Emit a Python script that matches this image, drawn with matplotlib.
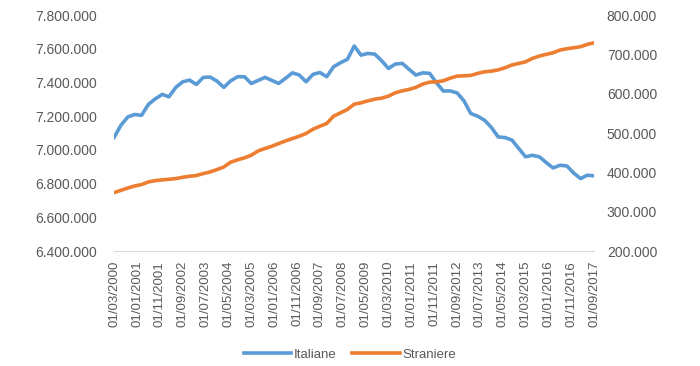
import matplotlib
matplotlib.use("Agg")
import matplotlib.pyplot as plt
from matplotlib.ticker import FuncFormatter, MultipleLocator
import pandas as pd

# quarterly observations, 03/2000 .. 09/2017
dates = pd.date_range("2000-03-01", "2017-09-01", freq="3MS")

italiane = [
    7074, 7147, 7196, 7210, 7205, 7270, 7303, 7329, 7315, 7371,
    7404, 7414, 7388, 7430, 7432, 7408, 7371, 7410, 7434, 7434,
    7394, 7412, 7430, 7412, 7394, 7425, 7457, 7444, 7404, 7448,
    7459, 7434, 7493, 7517, 7537, 7616, 7562, 7572, 7568, 7529,
    7483, 7509, 7513, 7478, 7444, 7457, 7454, 7398, 7349, 7350,
    7338, 7291, 7216, 7200, 7176, 7133, 7077, 7073, 7058, 7008,
    6959, 6968, 6959, 6925, 6893, 6909, 6905, 6863, 6830, 6850, 6846,
]
straniere = [
    348.6, 354.5, 360.4, 365.5, 369.0, 375.7, 379.2, 380.9, 382.5, 384.3,
    387.6, 390.2, 392.0, 397.0, 401.1, 407.2, 413.8, 426.0, 432.0, 437.0,
    443.6, 454.6, 460.7, 466.5, 473.4, 480.0, 486.1, 492.0, 498.9, 509.8,
    517.4, 524.3, 542.9, 551.3, 560.0, 573.4, 576.8, 581.8, 586.2, 588.7,
    593.8, 602.3, 607.3, 610.9, 616.0, 624.4, 629.4, 630.2, 632.8, 639.6,
    644.7, 645.5, 646.5, 651.6, 655.7, 657.4, 660.5, 666.0, 673.0, 677.0,
    681.1, 689.8, 695.6, 700.0, 704.0, 710.9, 714.2, 716.8, 719.3, 725.4, 729.5,
]
italiane = [v * 1000 for v in italiane]
straniere = [v * 1000 for v in straniere]

tick_dates = pd.date_range("2000-03-01", "2017-09-01", freq="10MS")

plt.rcParams["font.family"] = ["Liberation Sans", "DejaVu Sans"]
text_col = "#595959"
fmt = FuncFormatter(lambda v, p: f"{v:,.0f}".replace(",", "."))

fig = plt.figure(figsize=(7.0, 3.66), dpi=100)
ax = fig.add_axes([0.163, 0.314, 0.686, 0.645])
ax2 = ax.twinx()

l1, = ax.plot(dates, italiane, color="#5B9BD5", lw=2.6, label="Italiane",
              solid_joinstyle="round")
l2, = ax2.plot(dates, straniere, color="#ED7D31", lw=2.6, label="Straniere",
               solid_joinstyle="round")

ax.set_xlim(dates[0], dates[-1])
ax.set_ylim(6400000, 7800000)
ax.yaxis.set_major_locator(MultipleLocator(200000))
ax.yaxis.set_major_formatter(fmt)
ax2.set_ylim(200000, 800000)
ax2.yaxis.set_major_locator(MultipleLocator(100000))
ax2.yaxis.set_major_formatter(fmt)

ax.set_xticks(tick_dates)
ax.set_xticklabels([d.strftime("%d/%m/%Y") for d in tick_dates], rotation=90)

for a in (ax, ax2):
    for s in a.spines.values():
        s.set_visible(False)
    a.tick_params(length=0, labelsize=9.5, labelcolor=text_col)
ax.spines["bottom"].set_visible(True)
ax.spines["bottom"].set_color("#d9d9d9")
ax.tick_params(axis="y", labelsize=10, pad=12)
ax.tick_params(axis="x", pad=7)
ax2.tick_params(axis="y", labelsize=10, pad=9)

fig.legend(handles=[l1, l2], loc="lower center", bbox_to_anchor=(0.5, -0.018),
           ncol=2, frameon=False, fontsize=9.5, labelcolor=text_col,
           handlelength=3.6, handletextpad=0.2, columnspacing=1.2)

fig.savefig("out.png", dpi=100)
